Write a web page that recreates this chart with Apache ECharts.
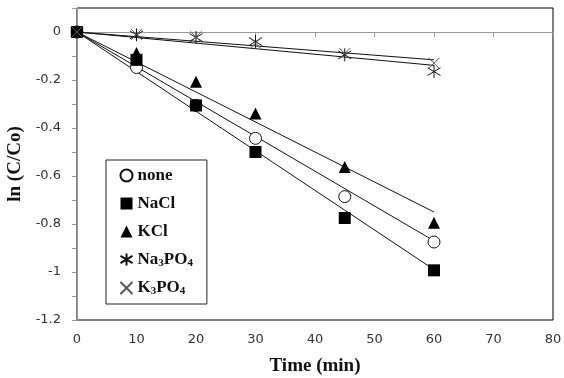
<!DOCTYPE html>
<html><head><meta charset="utf-8">
<script src="https://cdn.jsdelivr.net/npm/echarts@6/dist/echarts.min.js"></script>
<style>html,body{margin:0;padding:0;background:#fff}#c{width:564px;height:378px}</style>
</head><body><div id="c"></div>
<script>
var times = [0, 10, 20, 30, 45, 60];
var noneVals = [0, -0.148, -0.306, -0.443, -0.686, -0.875];
var naclVals = [0, -0.116, -0.306, -0.50, -0.775, -0.993];
var kclVals = [0, -0.088, -0.207, -0.34, -0.563, -0.795];
var na3po4Vals = [0, -0.012, -0.023, -0.04, -0.095, -0.165];
var k3po4Vals = [0, -0.01, -0.02, -0.046, -0.09, -0.13];
var trendX = [0, 60];
var noneTrend = [0, -0.87];
var naclTrend = [0, -0.99];
var kclTrend = [0, -0.75];
var na3po4Trend = [0, -0.139];
var k3po4Trend = [0, -0.116];
var xTicks = [0, 10, 20, 30, 40, 50, 60, 70, 80];
var yTicks = [-1.2, -1, -0.8, -0.6, -0.4, -0.2, 0];

function pairs(xs, ys){ return xs.map(function(x,i){return [x, ys[i]];}); }

var star = 'path://M5,0L5,10M0,2L10,8M0,8L10,2';
var cross = 'path://M0,0L10,10M10,0L0,10';

function scatter(name, data, symbol, style, size){
  style.opacity = 1;
  return {name:name, type:'scatter', data:pairs(times, data), symbol:symbol, symbolSize:size||11,
    itemStyle:style, z:5};
}
function trend(data){
  return {type:'line', data:pairs(trendX, data), showSymbol:false, symbol:'none',
    lineStyle:{color:'#111', width:1}, z:3, silent:true};
}

var chart = echarts.init(document.getElementById('c'));
chart.setOption({
  animation:false,
  grid:{left:77, right:11, top:8, bottom:58, containLabel:false, outerBoundsMode:'none',
    show:true, borderColor:'#000', borderWidth:1},
  xAxis:{type:'value', min:0, max:80, interval:10,
    axisLine:{lineStyle:{color:'#999'}}, axisTick:{show:true, inside:false, length:5, lineStyle:{color:'#999'}},
    splitLine:{show:false},
    axisLabel:{fontFamily:'DejaVu Sans', fontSize:13, color:'#333', margin:13},
    name:'Time (min)', nameLocation:'middle', nameGap:37,
    nameTextStyle:{fontFamily:'Liberation Serif', fontWeight:'bold', fontSize:19, color:'#111'}},
  yAxis:{type:'value', min:-1.2, max:0.1, interval:0.1,
    axisLine:{lineStyle:{color:'#999'}}, axisTick:{show:true, inside:false, length:5, lineStyle:{color:'#999'}},
    splitLine:{show:false},
    axisLabel:{fontFamily:'DejaVu Sans', fontSize:13, color:'#333', margin:16,
      formatter:function(v){var k=Math.round(v*10); if(k%2!==0) return ''; var r=k/10; return r===0?'0':String(r);}},
    name:'ln (C/Co)', nameLocation:'middle', nameGap:52, nameRotate:90,
    nameTextStyle:{fontFamily:'Liberation Serif', fontWeight:'bold', fontSize:19, color:'#111'}},
  legend:{orient:'vertical', left:106, top:160, width:80, itemWidth:12, itemHeight:12, itemGap:11,
    itemTextGap:3, padding:[7,14,7,12], borderColor:'#222', borderWidth:1, backgroundColor:'#fff',
    data:['none','NaCl','KCl','Na3PO4','K3PO4'],
    formatter:function(n){
      if(n==='Na3PO4') return '{t|Na}{s|3}{t|PO}{s|4}';
      if(n==='K3PO4') return '{t|K}{s|3}{t|PO}{s|4}';
      return '{t|'+n+'}';
    },
    textStyle:{rich:{
      t:{fontFamily:'Liberation Serif', fontWeight:'bold', fontSize:17, color:'#111', lineHeight:18},
      s:{fontFamily:'Liberation Serif', fontWeight:'bold', fontSize:11, color:'#111', lineHeight:12, verticalAlign:'bottom'}
    }}},
  series:[
    trend(noneTrend), trend(naclTrend), trend(kclTrend), trend(na3po4Trend), trend(k3po4Trend),
    scatter('none', noneVals, 'circle', {color:'#fff', borderColor:'#111', borderWidth:1}, 12),
    scatter('NaCl', naclVals, 'rect', {color:'#000'}, 12),
    scatter('KCl', kclVals, 'triangle', {color:'#000'}, 12),
    scatter('Na3PO4', na3po4Vals, star, {color:'none', borderColor:'#111', borderWidth:1}, 13),
    scatter('K3PO4', k3po4Vals, cross, {color:'none', borderColor:'#555', borderWidth:1}, 11)
  ]
});
</script></body></html>
